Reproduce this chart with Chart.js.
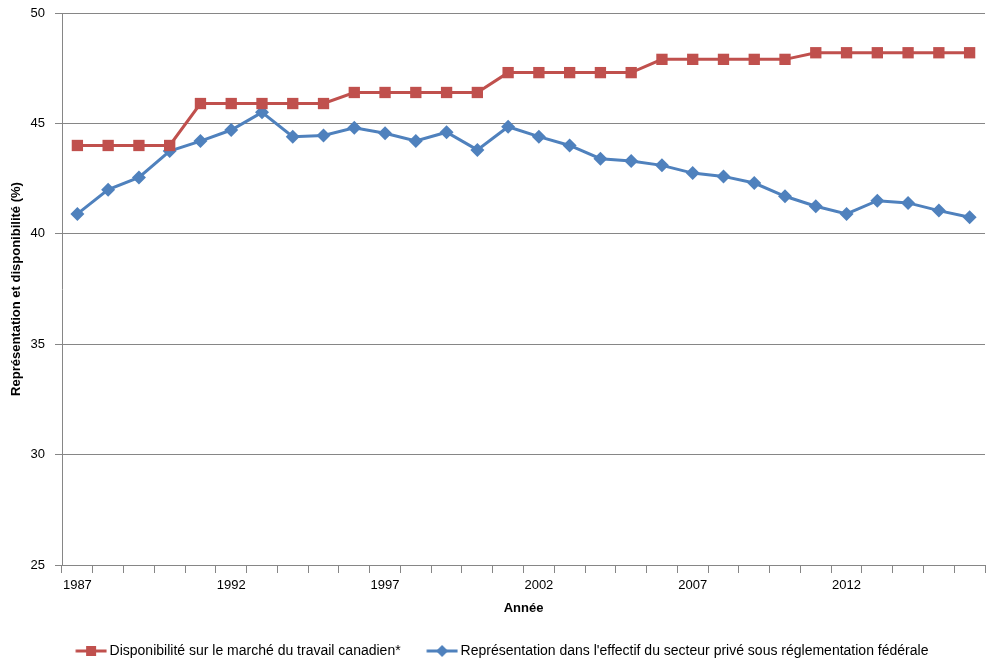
<!DOCTYPE html>
<html>
<head>
<meta charset="utf-8">
<script src="https://cdn.jsdelivr.net/npm/chart.js@4/dist/chart.umd.min.js"></script>
<style>
  html, body { margin: 0; padding: 0; background: #fff; }
  #wrap { width: 993px; height: 668px; }
</style>
</head>
<body>
<div id="wrap"><canvas id="chart"></canvas></div>
<script>
// Years on the x axis
var years = [];
for (var y = 1987; y <= 2016; y++) years.push(String(y));

// Availability in the Canadian labour market (%)
var disponibilite = [44.0, 44.0, 44.0, 44.0, 45.9, 45.9, 45.9, 45.9, 45.9, 46.4,
                     46.4, 46.4, 46.4, 46.4, 47.3, 47.3, 47.3, 47.3, 47.3, 47.9,
                     47.9, 47.9, 47.9, 47.9, 48.2, 48.2, 48.2, 48.2, 48.2, 48.2];

// Representation in federally regulated private sector (%)
var representation = [40.9, 42.0, 42.55, 43.75, 44.2, 44.7, 45.5, 44.4, 44.45, 44.8,
                      44.55, 44.2, 44.6, 43.8, 44.85, 44.4, 44.0, 43.4, 43.3, 43.1,
                      42.75, 42.6, 42.3, 41.7, 41.25, 40.9, 41.5, 41.4, 41.05, 40.75];

var yTicks = [25, 30, 35, 40, 45, 50];

var RED = '#C0504D';
var BLUE = '#4F81BD';
var GRID = '#868686';
var FONT = "'Liberation Sans', Arial, sans-serif";

// Legend symbol: blank lead-in, then a short line with the marker in the middle
var LEGEND_BOX = 43;
function legendIcon(color, shape) {
    var c = document.createElement('canvas');
    c.width = 52; c.height = 14;
    var g = c.getContext('2d');
    var x0 = 20.5, x1 = 51.5, mid = (x0 + x1) / 2;
    g.strokeStyle = color; g.lineWidth = 3;
    g.beginPath(); g.moveTo(x0, 7); g.lineTo(x1, 7); g.stroke();
    g.fillStyle = color;
    if (shape === 'rect') {
        g.fillRect(mid - 5, 2, 10, 10);
    } else {
        g.beginPath();
        g.moveTo(mid, 1); g.lineTo(mid + 6, 7); g.lineTo(mid, 13); g.lineTo(mid - 6, 7);
        g.closePath(); g.fill();
    }
    return c;
}

var ctx = document.getElementById('chart').getContext('2d');
new Chart(ctx, {
    type: 'line',
    data: {
        labels: years,
        datasets: [{
            label: 'Disponibilité sur le marché du travail canadien*',
            data: disponibilite,
            borderColor: RED,
            backgroundColor: RED,
            borderWidth: 3,
            pointStyle: 'rect',
            pointRadius: 8,
            pointHoverRadius: 8,
            pointBorderWidth: 0,
            tension: 0,
            legendIcon: legendIcon(RED, 'rect')
        }, {
            label: "Représentation dans l'effectif du secteur privé sous réglementation fédérale",
            data: representation,
            borderColor: BLUE,
            backgroundColor: BLUE,
            borderWidth: 3,
            pointStyle: 'rectRot',
            pointRadius: 7,
            pointHoverRadius: 7,
            pointBorderWidth: 0,
            tension: 0,
            legendIcon: legendIcon(BLUE, 'diamond')
        }]
    },
    options: {
        responsive: true,
        maintainAspectRatio: false,
        animation: false,
        layout: { padding: { top: 13, right: 5, left: 0, bottom: 0 } },
        scales: {
            x: {
                offset: true,
                grid: {
                    offset: true,
                    drawOnChartArea: false,
                    color: GRID,
                    tickLength: 8
                },
                border: { color: GRID, width: 1 },
                ticks: {
                    autoSkip: false,
                    maxRotation: 0,
                    color: '#000',
                    font: { family: FONT, size: 13 },
                    padding: 5,
                    callback: function (val, i) {
                        return i % 5 === 0 ? years[i] : '';
                    }
                },
                title: {
                    display: true,
                    text: 'Année',
                    color: '#000',
                    font: { family: FONT, size: 13, weight: 'bold' },
                    padding: { top: 4, bottom: 18 }
                },
                afterFit: function (scale) { scale.height = 69; }
            },
            y: {
                min: 25,
                max: 50,
                afterBuildTicks: function (scale) {
                    scale.ticks = yTicks.map(function (v) { return { value: v }; });
                },
                grid: { color: GRID, tickLength: 7 },
                border: { color: GRID, width: 1 },
                ticks: {
                    color: '#000',
                    font: { family: FONT, size: 13 },
                    padding: 10
                },
                title: {
                    display: true,
                    text: 'Représentation et disponibilité (%)',
                    color: '#000',
                    font: { family: FONT, size: 13, weight: 'bold' },
                    padding: { top: 9, bottom: 4 }
                },
                afterFit: function (scale) {
                    scale.width = 62;
                    scale.paddingTop = 0;
                    scale.paddingBottom = 0;
                }
            }
        },
        plugins: {
            legend: {
                position: 'bottom',
                labels: {
                    color: '#000',
                    font: { family: FONT, size: 14 },
                    usePointStyle: true,
                    pointStyleWidth: LEGEND_BOX,
                    padding: 10,
                    generateLabels: function (chart) {
                        return chart.data.datasets.map(function (ds, i) {
                            return {
                                text: ds.label,
                                pointStyle: ds.legendIcon,
                                fillStyle: ds.borderColor,
                                strokeStyle: ds.borderColor,
                                lineWidth: 0,
                                datasetIndex: i
                            };
                        });
                    }
                }
            },
            tooltip: { enabled: false }
        }
    }
});
</script>
</body>
</html>
